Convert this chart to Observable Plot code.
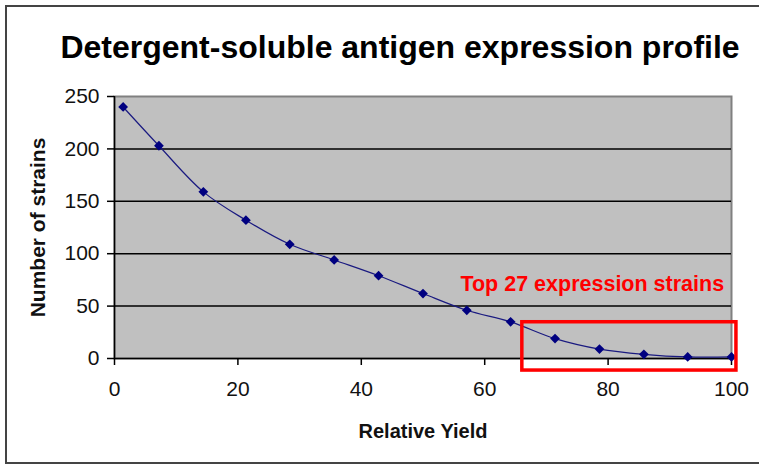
<!DOCTYPE html>
<html>
<head>
<meta charset="utf-8">
<script src="https://cdn.jsdelivr.net/npm/d3@7"></script>
<script src="https://cdn.jsdelivr.net/npm/@observablehq/plot@0.6"></script>
<style>
  html, body { margin: 0; padding: 0; background: #fff; overflow: hidden; }
  #wrap { position: relative; width: 759px; height: 466px; overflow: hidden; }
  #border { position: absolute; left: 5px; top: 5px; width: 800px; height: 459px; border: 2px solid #444; box-sizing: border-box; }
  #chart { position: absolute; left: 0; top: 0; }
</style>
</head>
<body>
<div id="wrap"><div id="border"></div><div id="chart"></div></div>
<script>
// Data
const relativeYield = [1.4, 7.2, 14.4, 21.3, 28.4, 35.6, 42.8, 50.0, 57.1, 64.2, 71.4, 78.6, 85.8, 92.9, 100];
const numStrains    = [240, 203, 159, 132, 109, 94, 79, 62, 46, 35, 19, 9, 4, 1.5, 1.5];
const xTicks = [0, 20, 40, 60, 80, 100];
const yTicks = [0, 50, 100, 150, 200, 250];
const gridValues = [50, 100, 150, 200];
const title = "Detergent-soluble antigen expression profile";
const xLabel = "Relative Yield";
const yLabel = "Number of strains";
const annotationText = ["Top 27 expression strains"];
const annotationX = [98.8];
const annotationY = [71];
const boxX1 = [66.1], boxX2 = [100.8], boxY1 = [34.6], boxY2 = [-11.5];

const points = relativeYield.map((x, i) => ({x, y: numStrains[i]}));
const box = boxX1.map((x1, i) => ({x1, x2: boxX2[i], y1: boxY1[i], y2: boxY2[i]}));
const notes = annotationText.map((t, i) => ({t, x: annotationX[i], y: annotationY[i]}));

const font = "'Liberation Sans', Arial, sans-serif";

const chart = Plot.plot({
  width: 759,
  height: 466,
  marginLeft: 114,
  marginRight: 28,
  marginTop: 96,
  marginBottom: 108,
  style: {fontFamily: font, background: "transparent", overflow: "visible"},
  x: {domain: [0, 100]},
  y: {domain: [0, 250]},
  marks: [
    Plot.frame({fill: "#c0c0c0", stroke: "#808080", strokeWidth: 2}),
    Plot.gridY(gridValues, {stroke: "#000", strokeOpacity: 1, strokeWidth: 1.5}),
    Plot.ruleX([0], {stroke: "#000", strokeWidth: 1.5}),
    Plot.ruleY([0], {stroke: "#000", strokeWidth: 1.5}),
    Plot.axisY({ticks: yTicks, tickSize: 7, tickPadding: 8, fontSize: 21, label: null, stroke: "#000", strokeWidth: 1.5, fill: "#111"}),
    Plot.axisX({ticks: xTicks, tickSize: 7, tickPadding: 16, fontSize: 21, label: null, stroke: "#000", strokeWidth: 1.5, fill: "#111"}),
    Plot.line(points, {x: "x", y: "y", curve: "catmull-rom", stroke: "#1a1a80", strokeWidth: 1.2}),
    Plot.dot(points, {x: "x", y: "y", symbol: "diamond2", r: 4.4, fill: "#000080", stroke: "none"}),
    Plot.rect(box, {x1: "x1", x2: "x2", y1: "y1", y2: "y2", fill: "none", stroke: "#ff0000", strokeWidth: 3.5}),
    Plot.text(notes, {x: "x", y: "y", text: "t", textAnchor: "end", fill: "#ff0000", fontWeight: "bold", fontSize: 21.5}),
    Plot.text([title], {frameAnchor: "top", lineAnchor: "middle", dy: -49, dx: -23, fontSize: 32, fontWeight: "bold", fill: "#000"}),
    Plot.text([xLabel], {frameAnchor: "bottom", lineAnchor: "middle", dy: 73, fontSize: 20, fontWeight: "bold", fill: "#111"}),
    Plot.text([yLabel], {frameAnchor: "left", textAnchor: "middle", lineAnchor: "middle", dx: -76, rotate: -90, fontSize: 21, fontWeight: "bold", fill: "#111"})
  ]
});
document.getElementById("chart").appendChild(chart);
</script>
</body>
</html>
